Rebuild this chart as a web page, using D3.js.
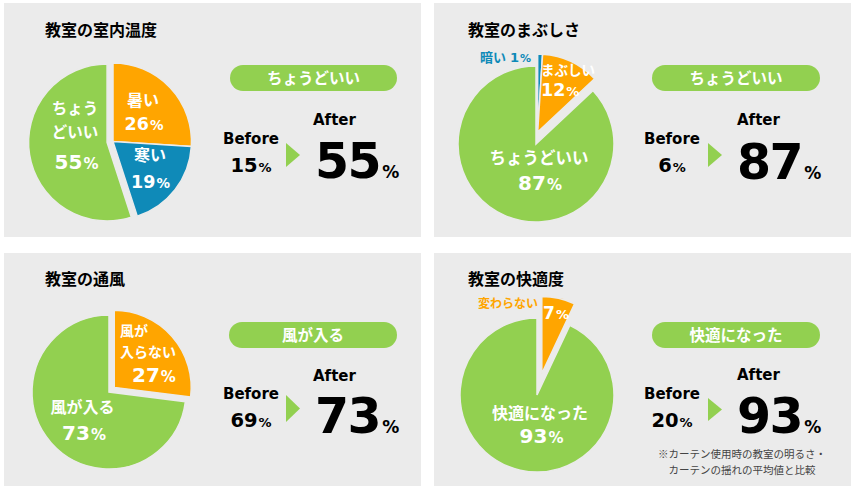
<!DOCTYPE html>
<html><head><meta charset="utf-8">
<script src="https://cdn.jsdelivr.net/npm/d3@7"></script>
<style>
html,body{margin:0;padding:0;background:#fff;}
svg{display:block;}
</style></head><body>
<svg id="chart" width="855" height="491"></svg>
<script>
// ---------- data ----------
const panelTitles = ["教室の室内温度", "教室のまぶしさ", "教室の通風", "教室の快適度"];
const sliceNames = [
  ["暑い", "寒い", "ちょうどいい"],
  ["暗い", "まぶしい", "ちょうどいい"],
  ["風が入らない", "風が入る"],
  ["変わらない", "快適になった"]
];
const sliceValues = [
  [26, 19, 55],
  [1, 12, 87],
  [27, 73],
  [7, 93]
];
const sliceNameLines = [
  [["暑い"], ["寒い"], ["ちょう", "どいい"]],
  [["暗い"], ["まぶしい"], ["ちょうどいい"]],
  [["風が", "入らない"], ["風が入る"]],
  [["変わらない"], ["快適になった"]]
];
const highlightLabels = ["ちょうどいい", "ちょうどいい", "風が入る", "快適になった"];
const beforeValues = [15, 6, 69, 20];
const afterValues = [55, 87, 73, 93];
const beforeLabel = "Before";
const afterLabel = "After";
const footnoteLines = ["※カーテン使用時の教室の明るさ・", "カーテンの揺れの平均値と比較"];

// ---------- styles / layout ----------
const COL = { green: "#92d050", orange: "#ffa500", blue: "#0f8ab8", bg: "#ebebeb", text: "#000", note: "#444" };
const LATIN = "'DejaVu Sans', 'Noto Sans CJK JP', sans-serif";
const CJK = "'Noto Sans CJK JP', 'DejaVu Sans', sans-serif";

const layout = [
  { panel: [4, 3, 417, 234], title: [45, 36],
    pie: { cx: 113, cy: 141.5, r: 78.5, colors: [COL.orange, COL.blue, COL.green], explode: [{ slices: [2], dist: 6 }] },
    labels: [
      { name: { x: 143, ys: [106], anchor: "middle", size: 16, fill: "#fff" }, value: { x: 144, y: 130, anchor: "middle", size: 17.5, psize: 13.5, fill: "#fff" } },
      { name: { x: 150, ys: [161], anchor: "middle", size: 16, fill: "#fff" }, value: { x: 150.5, y: 188, anchor: "middle", size: 17.5, psize: 13.5, fill: "#fff" } },
      { name: { x: 75, ys: [114, 138], anchor: "middle", size: 15.5, fill: "#fff" }, value: { x: 76.5, y: 169, anchor: "middle", size: 20, psize: 15, fill: "#fff" } }
    ],
    pill: [230, 65, 167, 26], before: { x: 251, y: 144, vy: 172 }, tri: [286, 143, 300, 167], after: { x: 313, y: 125 }, big: { x: 315, y: 178 } },
  { panel: [434, 3, 417, 234], title: [468, 36],
    pie: { cx: 536, cy: 144, r: 78, colors: [COL.blue, COL.orange, COL.green], explode: [{ slices: [0, 1], dist: 12, angle: 8 }] },
    labels: [
      { name: { x: 480, ys: [62], anchor: "start", size: 13, fill: COL.blue }, value: { inline: true, dx: 4, size: 13, psize: 11, fill: COL.blue } },
      { name: { x: 541, ys: [75], anchor: "start", size: 13.5, fill: "#fff" }, value: { x: 541, y: 96, anchor: "start", size: 17.5, psize: 13, fill: "#fff" } },
      { name: { x: 539, ys: [164], anchor: "middle", size: 16.5, fill: "#fff" }, value: { x: 540, y: 190, anchor: "middle", size: 20, psize: 15, fill: "#fff" } }
    ],
    pill: [652, 65, 168, 26], before: { x: 672, y: 144, vy: 172 }, tri: [708, 143, 722, 167], after: { x: 737, y: 125 }, big: { x: 737, y: 179 } },
  { panel: [4, 253, 417, 233], title: [45, 285],
    pie: { cx: 109, cy: 392, r: 77, colors: [COL.orange, COL.green], explode: [{ slices: [0], dist: 7 }] },
    labels: [
      { name: { x: 120, ys: [336, 357], anchor: "start", size: 14, fill: "#fff" }, value: { x: 132, y: 382, anchor: "start", size: 20, psize: 15, fill: "#fff" } },
      { name: { x: 82.5, ys: [413], anchor: "middle", size: 16, fill: "#fff" }, value: { x: 84, y: 440, anchor: "middle", size: 20, psize: 15, fill: "#fff" } }
    ],
    pill: [229, 322, 168, 26], before: { x: 251, y: 399, vy: 427 }, tri: [286, 395, 300, 422], after: { x: 313, y: 381 }, big: { x: 315, y: 433 } },
  { panel: [434, 253, 417, 233], title: [468, 285],
    pie: { cx: 537, cy: 395, r: 77, colors: [COL.orange, COL.green], explode: [{ slices: [0], dist: 22 }] },
    labels: [
      { name: { x: 478, ys: [308], anchor: "start", size: 12, fill: COL.orange }, value: { x: 556, y: 319, anchor: "middle", size: 17, psize: 13, fill: "#fff" } },
      { name: { x: 540, ys: [419], anchor: "middle", size: 16, fill: "#fff" }, value: { x: 541.5, y: 443, anchor: "middle", size: 20, psize: 15, fill: "#fff" } }
    ],
    pill: [652, 322, 168, 26], before: { x: 672, y: 399, vy: 427 }, tri: [708, 398, 722, 421], after: { x: 737, y: 380 }, big: { x: 737, y: 433 },
    footnote: { x: 742, ys: [458, 474], size: 10.5 } }
];

// ---------- draw ----------
const svg = d3.select("#chart");
const pieGen = d3.pie().sort(null).value(d => d).startAngle(0).endAngle(2 * Math.PI);

layout.forEach((L, p) => {
  const g = svg.append("g");
  g.append("rect").attr("x", L.panel[0]).attr("y", L.panel[1]).attr("width", L.panel[2]).attr("height", L.panel[3]).attr("fill", COL.bg);
  g.append("text").attr("x", L.title[0]).attr("y", L.title[1]).attr("font-family", CJK).attr("font-weight", 700)
    .attr("font-size", 16).attr("fill", COL.text).text(panelTitles[p]);

  // pie
  const arcs = pieGen(sliceValues[p]);
  const arc = d3.arc().innerRadius(0).outerRadius(L.pie.r);
  const offsets = arcs.map(() => [0, 0]);
  L.pie.explode.forEach(ex => {
    const first = arcs[ex.slices[0]], last = arcs[ex.slices[ex.slices.length - 1]];
    const a = ex.angle !== undefined ? ex.angle * Math.PI / 180 : (first.startAngle + last.endAngle) / 2;
    ex.slices.forEach(i => { offsets[i] = [Math.sin(a) * ex.dist, -Math.cos(a) * ex.dist]; });
  });
  const pg = g.append("g").attr("transform", `translate(${L.pie.cx},${L.pie.cy})`);
  pg.selectAll("path").data(arcs).join("path")
    .attr("d", arc)
    .attr("transform", (d, i) => `translate(${offsets[i][0]},${offsets[i][1]})`)
    .attr("fill", (d, i) => L.pie.colors[i])
    .attr("stroke", COL.bg).attr("stroke-width", 1.5).attr("stroke-linejoin", "miter");

  // slice labels
  arcs.forEach((d, i) => {
    const lab = L.labels[i];
    const lines = sliceNameLines[p][i];
    let lastText = null;
    lines.forEach((ln, k) => {
      lastText = g.append("text").attr("x", lab.name.x).attr("y", lab.name.ys[k]).attr("text-anchor", lab.name.anchor)
        .attr("font-family", CJK).attr("font-weight", 700).attr("font-size", lab.name.size).attr("fill", lab.name.fill).text(ln);
    });
    const v = lab.value;
    let vt;
    if (v.inline) {
      vt = lastText;
      vt.append("tspan").attr("dx", v.dx).attr("font-family", LATIN).attr("font-size", v.size).attr("fill", v.fill).text(d.data);
    } else {
      vt = g.append("text").attr("x", v.x).attr("y", v.y).attr("text-anchor", v.anchor).attr("font-family", LATIN)
        .attr("font-weight", 700).attr("fill", v.fill);
      vt.append("tspan").attr("font-size", v.size).text(d.data);
    }
    vt.append("tspan").attr("font-family", LATIN).attr("font-size", v.psize).attr("dx", 1).text("%");
  });

  // pill
  g.append("rect").attr("x", L.pill[0]).attr("y", L.pill[1]).attr("width", L.pill[2]).attr("height", L.pill[3])
    .attr("rx", L.pill[3] / 2).attr("fill", COL.green);
  g.append("text").attr("x", L.pill[0] + L.pill[2] / 2).attr("y", L.pill[1] + L.pill[3] / 2 + 5.5).attr("text-anchor", "middle")
    .attr("font-family", CJK).attr("font-weight", 700).attr("font-size", 15.5).attr("fill", "#fff").text(highlightLabels[p]);

  // before
  g.append("text").attr("x", L.before.x).attr("y", L.before.y).attr("text-anchor", "middle")
    .attr("font-family", LATIN).attr("font-weight", 700).attr("font-size", 15).attr("fill", COL.text).text(beforeLabel);
  const bt = g.append("text").attr("x", L.before.x).attr("y", L.before.vy).attr("text-anchor", "middle")
    .attr("font-family", LATIN).attr("font-weight", 700).attr("fill", COL.text);
  bt.append("tspan").attr("font-size", 19.5).text(beforeValues[p]);
  bt.append("tspan").attr("font-size", 13).attr("dx", 1).text("%");

  // arrow triangle
  const t = L.tri;
  g.append("path").attr("d", `M${t[0]},${t[1]}L${t[2]},${(t[1] + t[3]) / 2}L${t[0]},${t[3]}Z`).attr("fill", COL.green);

  // after
  g.append("text").attr("x", L.after.x).attr("y", L.after.y).attr("font-family", LATIN).attr("font-weight", 700)
    .attr("font-size", 15).attr("fill", COL.text).text(afterLabel);
  const at = g.append("text").attr("x", L.big.x).attr("y", L.big.y).attr("font-family", LATIN).attr("font-weight", 700).attr("fill", COL.text);
  at.append("tspan").attr("font-size", 49).attr("letter-spacing", -1.5).text(afterValues[p]);
  at.append("tspan").attr("font-size", 17).attr("dx", 2).text("%");

  if (L.footnote) {
    footnoteLines.forEach((ln, k) => {
      g.append("text").attr("x", L.footnote.x).attr("y", L.footnote.ys[k]).attr("text-anchor", "middle")
        .attr("font-family", CJK).attr("font-size", L.footnote.size).attr("fill", COL.note).text(ln);
    });
  }
});
</script>
</body></html>
